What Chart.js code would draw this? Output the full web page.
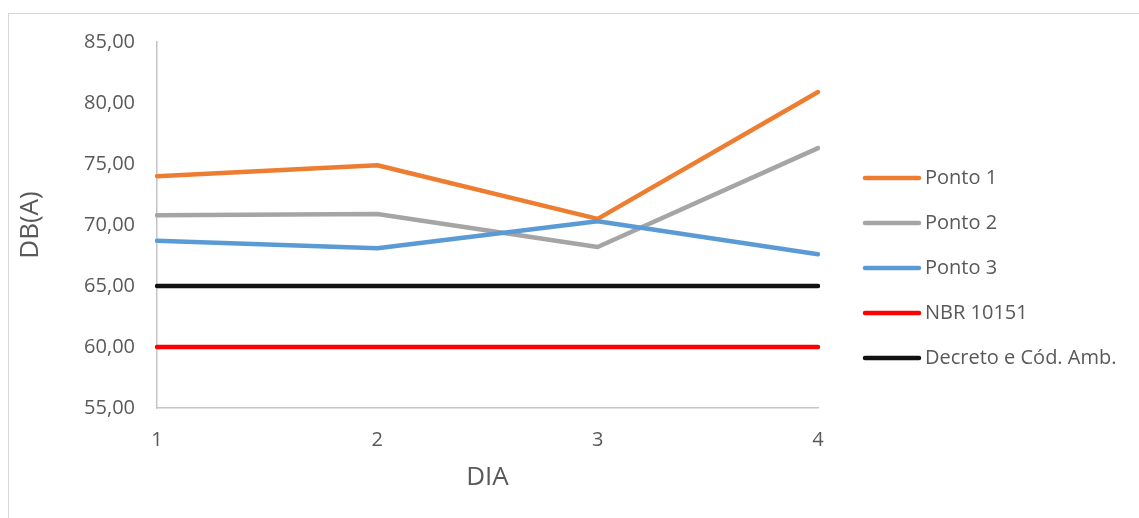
<!DOCTYPE html>
<html>
<head>
<meta charset="utf-8">
<script src="https://cdn.jsdelivr.net/npm/chart.js@4/dist/chart.umd.min.js"></script>
<style>
  html, body { margin: 0; padding: 0; background: #fff; overflow: hidden; }
  #wrap { position: relative; width: 1139px; height: 518px; }
  #frame { position: absolute; left: 8px; top: 13px; right: -5px; bottom: -5px;
           border-left: 1px solid #d6d6d6; border-top: 1px solid #d6d6d6; }
  #chart { position: absolute; left: 0; top: 0; }
</style>
</head>
<body>
<div id="wrap">
  <div id="frame"></div>
  <canvas id="chart"></canvas>
</div>
<script>
// dados
const dias = ['1', '2', '3', '4'];
const ponto1 = [74.0, 74.9, 70.5, 80.9];
const ponto2 = [70.8, 70.9, 68.2, 76.3];
const ponto3 = [68.7, 68.1, 70.3, 67.6];
const nbr10151 = [60, 60, 60, 60];
const decreto = [65, 65, 65, 65];

const yMin = 55;
const yMax = 85;
const yStep = 5;

const textColor = '#595959';
const fontFamily = "'Open Sans', 'Noto Sans', sans-serif";

// helper for each line series
const serie = (label, data, color, order) => ({
  label: label,
  data: data,
  borderColor: color,
  backgroundColor: color,
  borderWidth: 4.5,
  borderCapStyle: 'round',
  borderJoinStyle: 'round',
  pointRadius: 0,
  pointHoverRadius: 0,
  tension: 0,
  fill: false,
  order: order,
});

const data = {
  labels: dias,
  datasets: [
    serie('Ponto 1', ponto1, '#ED7D31', 5),
    serie('Ponto 2', ponto2, '#A5A5A5', 4),
    serie('Ponto 3', ponto3, '#5B9BD5', 3),
    serie('NBR 10151', nbr10151, '#FF0000', 2),
    serie('Decreto e Cód. Amb.', decreto, '#111111', 1),
  ],
};

// legend drawn at the right like excel does it (built-in one clips long labels)
const sideLegend = {
  id: 'sideLegend',
  afterDraw(chart) {
    const ctx = chart.ctx;
    const area = chart.chartArea;
    const sets = chart.data.datasets;
    const gap = 45;
    const x0 = area.right + 47;
    const lineLen = 54;
    const midY = (chart.height + 18) / 2;
    const y0 = midY - gap * (sets.length - 1) / 2;
    ctx.save();
    ctx.font = "20px " + fontFamily;
    ctx.textBaseline = 'middle';
    ctx.textAlign = 'left';
    sets.forEach((ds, i) => {
      const y = y0 + i * gap;
      ctx.strokeStyle = ds.borderColor;
      ctx.lineWidth = ds.borderWidth;
      ctx.lineCap = 'round';
      ctx.beginPath();
      ctx.moveTo(x0, y);
      ctx.lineTo(x0 + lineLen, y);
      ctx.stroke();
      ctx.fillStyle = textColor;
      ctx.fillText(ds.label, x0 + lineLen + 6, y);
    });
    ctx.restore();
  },
};

const config = {
  type: 'line',
  data: data,
  plugins: [sideLegend],
  options: {
    responsive: true,
    maintainAspectRatio: false,
    animation: false,
    layout: {
      padding: { left: 8, top: 42, right: 321, bottom: 25 },
    },
    plugins: {
      tooltip: { enabled: false },
      legend: { display: false },
    },
    scales: {
      x: {
        type: 'category',
        offset: false,
        grid: { display: false, drawTicks: false },
        border: { display: true, color: '#c4c4c4', width: 1.5 },
        ticks: {
          color: textColor,
          font: { family: fontFamily, size: 20 },
          padding: 20,
          maxRotation: 0,
        },
        title: {
          display: true,
          text: 'DIA',
          color: textColor,
          font: { family: fontFamily, size: 26 },
          padding: { top: 0, bottom: 0 },
        },
        afterFit: (scale) => { scale.height = 85; },
      },
      y: {
        min: yMin,
        max: yMax,
        grid: { display: false, drawTicks: false },
        border: { display: true, color: '#c4c4c4', width: 1.5 },
        ticks: {
          stepSize: yStep,
          color: textColor,
          font: { family: fontFamily, size: 20 },
          padding: 22,
          callback: (v) => v.toFixed(2).replace('.', ','),
        },
        title: {
          display: true,
          text: 'DB(A)',
          color: textColor,
          font: { family: fontFamily, size: 26 },
          padding: { top: 7, bottom: 0 },
        },
        afterFit: (scale) => { scale.width = 149; },
      },
    },
  },
};

new Chart(document.getElementById('chart'), config);
</script>
</body>
</html>
